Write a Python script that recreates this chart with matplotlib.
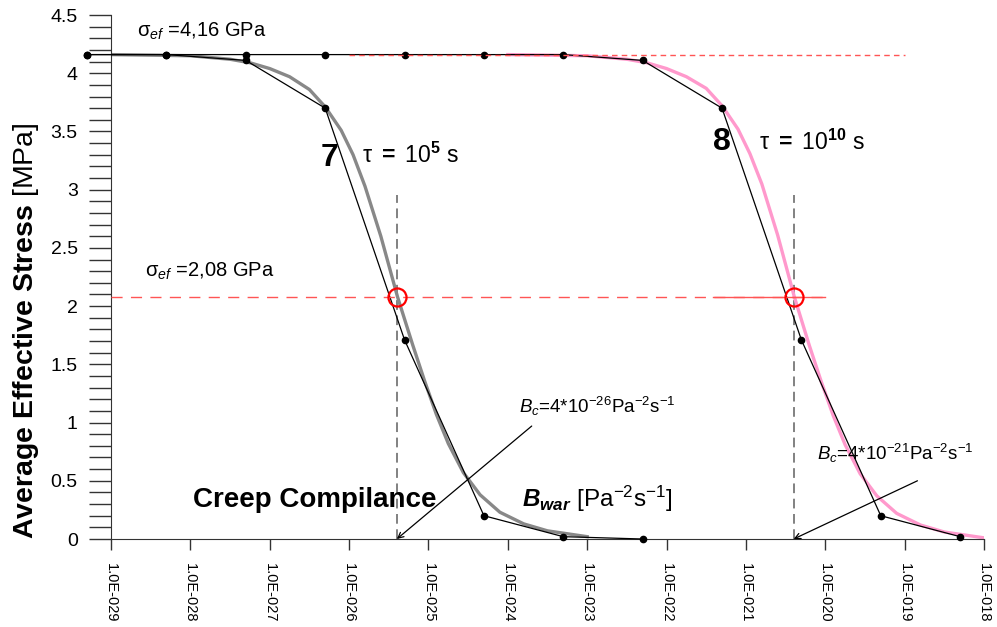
import numpy as np
import matplotlib
matplotlib.use("Agg")
from matplotlib import pyplot as plt

plt.rcParams['font.family'] = ['Liberation Sans', 'DejaVu Sans']
plt.rcParams['mathtext.fontset'] = 'custom'
plt.rcParams['mathtext.rm'] = 'Liberation Sans'
plt.rcParams['mathtext.it'] = 'Liberation Sans:italic'
plt.rcParams['mathtext.bf'] = 'Liberation Sans:bold'
plt.rcParams['mathtext.bfit'] = 'Liberation Sans:italic:bold'
plt.rcParams['lines.scale_dashes'] = False

# measured points (black polylines)
b_points7 = [5e-30, 5e-29, 5e-28, 5e-27, 5e-26, 5e-25, 5e-24, 5e-23]
stress_points7 = [4.16, 4.16, 4.11, 3.70, 1.71, 0.20, 0.02, 0.0]
b_points8 = [5e-30, 5e-29, 5e-28, 5e-27, 5e-26, 5e-25, 5e-24, 5e-23,
             5e-22, 5e-21, 5e-20, 5e-19]
stress_points8 = [4.16, 4.16, 4.16, 4.16, 4.16, 4.16, 4.16, 4.11, 3.70, 1.71, 0.20, 0.02]

# smooth fitted curves (log10 of B)
log_b_fit7 = [-29.0, -28.0, -27.5, -27.25, -27.0, -26.75, -26.5, -26.3, -26.1,
              -25.95, -25.8, -25.6, -25.39, -25.2, -25.05, -24.9, -24.75,
              -24.56, -24.35, -24.1, -23.8, -23.5, -23.0]
stress_fit7 = [4.16, 4.15, 4.12, 4.09, 4.04, 3.97, 3.86, 3.71, 3.51,
               3.30, 3.03, 2.60, 2.08, 1.67, 1.36, 1.07, 0.82,
               0.57, 0.38, 0.23, 0.13, 0.07, 0.02]
log_b_fit8 = [-24.0, -23.0, -22.5, -22.25, -22.0, -21.75, -21.5, -21.3, -21.1,
              -20.95, -20.8, -20.6, -20.39, -20.2, -20.05, -19.9, -19.75,
              -19.56, -19.35, -19.1, -18.8, -18.5, -18.0]
stress_fit8 = [4.16, 4.15, 4.12, 4.09, 4.04, 3.97, 3.87, 3.72, 3.52,
               3.31, 3.05, 2.61, 2.08, 1.66, 1.35, 1.06, 0.81,
               0.56, 0.37, 0.22, 0.12, 0.06, 0.01]

b_crit = [4e-26, 4e-21]
sigma_half = 2.08
sigma_full = 4.16

x_ticks = [10.0 ** e for e in range(-29, -17)]
x_tick_labels = ['1.0E-0%d' % -e for e in range(-29, -17)]

fig = plt.figure(figsize=(9.97, 6.27), dpi=100)
ax = fig.add_axes([111 / 997, 1 - 539 / 627, 873 / 997, 524 / 627])
ax.set_xscale('log')

ax.plot(10.0 ** np.array(log_b_fit7), stress_fit7, color='#888888', lw=2.4, zorder=2)
ax.plot(10.0 ** np.array(log_b_fit8), stress_fit8, color='#ff99cc', lw=2.4, zorder=2)

ax.plot(b_points8, stress_points8, color='black', lw=0.9, marker='o', ms=4.5,
        clip_on=False, zorder=3)
ax.plot(b_points7, stress_points7, color='black', lw=0.9, marker='o', ms=4.5,
        clip_on=False, zorder=3)

# reference lines
ax.plot([1e-26, 1e-19], [sigma_full, sigma_full], color='#ff5555', lw=1,
        dashes=(4, 3), zorder=4)
ax.plot([1e-29, 1e-20], [sigma_half, sigma_half], color='#ff5555', lw=1,
        dashes=(8, 6), zorder=4)
ax.plot([10 ** -21.42, 1e-20], [sigma_half, sigma_half], color='#ff5555', lw=1, zorder=4)
for bc in b_crit:
    ax.plot([bc, bc], [0, 2.95], color='#777777', lw=1.3, dashes=(7, 4), zorder=1)
ax.plot(b_crit, [sigma_half, sigma_half], ls='none', marker='o', ms=13,
        mfc='none', mec='red', mew=1.6, zorder=5)

# annotations
ax.text(2.1e-29, 4.31, '\u03c3$_{ef}$ =4,16 GPa', fontsize=14.5)
ax.text(2.7e-29, 2.25, '\u03c3$_{ef}$ =2,08 GPa', fontsize=14.5)
ax.text(5.7e-27, 3.20, '7', fontsize=23, fontweight='bold', ha='center')
ax.text(1.45e-26, 3.23, '\u03c4 $\\mathbf{=}$ 10$^{\\mathbf{5}}$ s', fontsize=16.5)
ax.text(5.0e-22, 3.34, '8', fontsize=23, fontweight='bold', ha='center')
ax.text(1.48e-21, 3.34, '\u03c4 $\\mathbf{=}$ 10$^{\\mathbf{10}}$ s', fontsize=16.5)
ax.text(1.07e-28, 0.275, 'Creep Compilance', fontsize=20, fontweight='bold')
ax.text(1.5e-24, 0.275, '$\\mathbfit{B}_{\\mathbfit{war}}$ [Pa$^{-2}$s$^{-1}$]', fontsize=17.5)
ax.text(1.38e-24, 1.08, '$B_c$=4*10$^{-26}$Pa$^{-2}$s$^{-1}$', fontsize=13.5)
ax.text(7.8e-21, 0.68, '$B_c$=4*10$^{-21}$Pa$^{-2}$s$^{-1}$', fontsize=13.5)
ax.annotate('', xy=(b_crit[0], 0), xytext=(2.0e-24, 0.97),
            arrowprops=dict(arrowstyle='->', color='black', lw=0.9, shrinkA=0, shrinkB=0))
ax.annotate('', xy=(b_crit[1], 0), xytext=(1.45e-19, 0.50),
            arrowprops=dict(arrowstyle='->', color='black', lw=0.9, shrinkA=0, shrinkB=0))

fig.text(26 / 997, 1 - 331 / 627, '$\\mathbf{Average\\ Effective\\ Stress}$ [MPa]',
         rotation=90, fontsize=20.5, ha='center', va='center')

ax.set_xlim(1e-29, 1e-18)
ax.set_ylim(0, 4.5)
ax.set_xticks(x_ticks)
ax.set_xticklabels(x_tick_labels, rotation=-90, fontsize=10.5)
ax.xaxis.set_minor_locator(matplotlib.ticker.NullLocator())
ax.set_yticks(np.arange(0, 4.51, 0.5))
ax.set_yticklabels(['0', '0.5', '1', '1.5', '2', '2.5', '3', '3.5', '4', '4.5'], fontsize=14)
ax.set_yticks(np.arange(0, 4.51, 0.1), minor=True)
ax.tick_params(axis='y', which='both', direction='out', length=16, width=1,
               color='#333333', pad=8)
ax.tick_params(axis='x', which='major', direction='out', length=8, width=1,
               color='#333333', pad=9)
for side in ['top', 'right']:
    ax.spines[side].set_visible(False)
for side in ['left', 'bottom']:
    ax.spines[side].set_color('#333333')

fig.savefig('out.png', dpi=100)
